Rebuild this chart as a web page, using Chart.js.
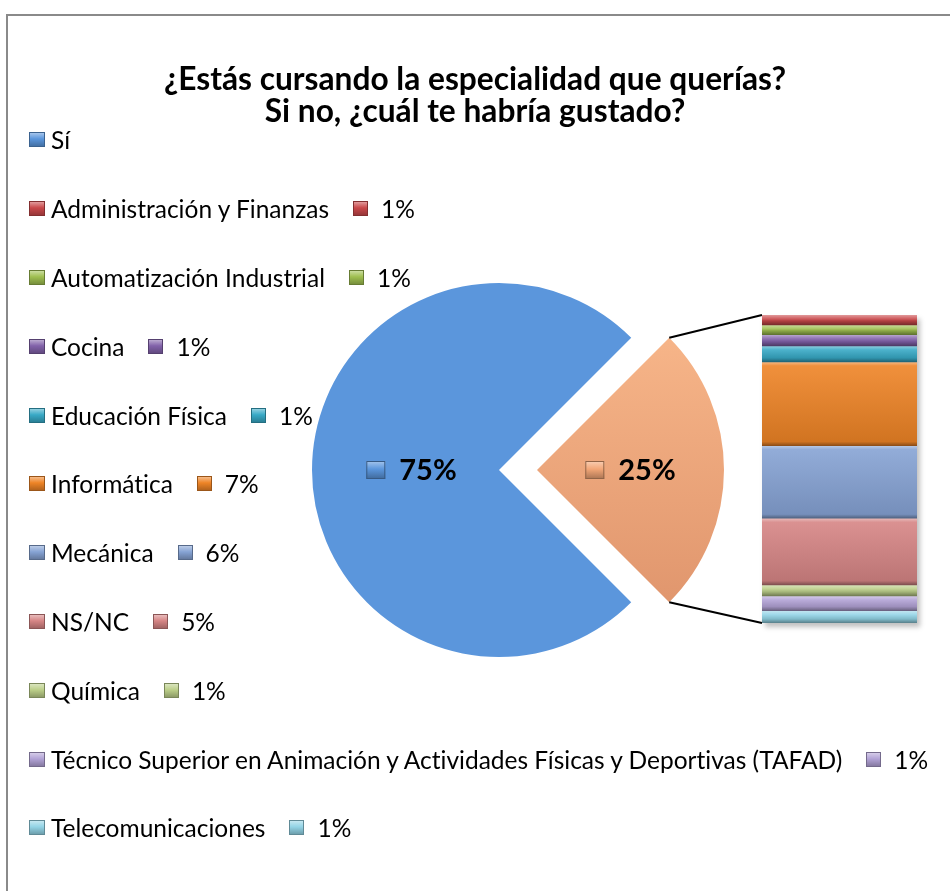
<!DOCTYPE html>
<html>
<head>
<meta charset="utf-8">
<script src="https://cdn.jsdelivr.net/npm/chart.js@4.4.1/dist/chart.umd.min.js"></script>
<style>
html,body{margin:0;padding:0;background:#fff;overflow:hidden;}
body{width:950px;height:891px;position:relative;font-family:Lato,"Open Sans",sans-serif;color:#000;font-variant-ligatures:none;}
#frame{position:absolute;left:6px;top:14px;width:2000px;height:2000px;border-left:2px solid #8a8a8a;border-top:2px solid #8a8a8a;}
#pie{position:absolute;left:0;top:0;}
#bar{position:absolute;left:762px;top:315px;box-shadow:3px 4px 5px rgba(0,0,0,0.25);}
#title{position:absolute;left:0;width:950px;top:62px;text-align:center;font-weight:bold;font-size:31.7px;line-height:32px;}
#legend{position:absolute;left:29px;top:105.6px;font-size:24.5px;}
.row{height:68.8px;display:flex;align-items:center;white-space:nowrap;}
.key{width:16px;height:15px;margin-right:6px;box-sizing:border-box;}
.vkey{width:15px;height:15px;margin-left:24px;margin-right:13px;box-sizing:border-box;}
</style>
</head>
<body>
<div id="frame"></div>
<canvas id="pie" width="950" height="891"></canvas>
<canvas id="bar" width="155" height="308"></canvas>
<div id="title">¿Estás cursando la especialidad que querías?<br>Si no, ¿cuál te habría gustado?</div>
<div id="legend"></div>
<script>
// pie: Sí vs. the rest (the rest is broken out in the bar)
const pieLabels = ['Sí', 'Otros'];
const pieValues = [75, 25];
const pieColors = ['#5b96dc', '#f2a677'];

// breakdown of the 25%
const subLabels = ['Administración y Finanzas', 'Automatización Industrial', 'Cocina', 'Educación Física',
  'Informática', 'Mecánica', 'NS/NC', 'Química',
  'Técnico Superior en Animación y Actividades Físicas y Deportivas (TAFAD)', 'Telecomunicaciones'];
const subValues = [0.8, 0.8, 0.9, 1.3, 6.8, 5.9, 5.4, 0.9, 1.2, 1.0];
const subColors = ['#c9484a', '#9fbf50', '#8262aa', '#38a9c6', '#ee8426', '#86a3d4', '#d68585', '#bccf89', '#b2a3d6', '#93d4e6'];

const EXPLODE = 38;
const subTotal = subValues.reduce((a, b) => a + b, 0);

function shade(hex, f){
    const n = parseInt(hex.slice(1), 16);
    let rgb = [n >> 16, (n >> 8) & 255, n & 255];
    rgb = rgb.map(v => Math.round(f >= 0 ? v + (255 - v) * f : v * (1 + f)));
    return `rgb(${rgb[0]},${rgb[1]},${rgb[2]})`;
}

function keyBg(col){
    return `background:linear-gradient(${shade(col,0.45)}, ${col} 45%, ${shade(col,-0.25)});border:1px solid ${shade(col,-0.35)};`;
}

function barFill(c, i){
    const ys = c.chart.scales.y;
    if(!ys || ys.top === undefined) return subColors[i];
    const start = subValues.slice(0, i).reduce((a, b) => a + b, 0);
    const y0 = ys.getPixelForValue(start), y1 = ys.getPixelForValue(start + subValues[i]);
    const h = Math.abs(y1 - y0) || 1, e = Math.min(0.4, 4 / h);
    const col = subColors[i];
    const g = c.chart.ctx.createLinearGradient(0, y0, 0, y1);
    g.addColorStop(0, shade(col, 0.45));
    g.addColorStop(e, shade(col, 0.1));
    g.addColorStop(1 - e, shade(col, -0.12));
    g.addColorStop(1, shade(col, -0.4));
    return g;
}

// legend built from the arrays
const legend = document.getElementById('legend');
const rows = [{label: pieLabels[0], color: pieColors[0]}]
    .concat(subLabels.map((l, i) => ({label: l, color: subColors[i], value: subValues[i]})));
rows.forEach(r => {
    const d = document.createElement('div');
    d.className = 'row';
    let h = `<span class="key" style="${keyBg(r.color)}"></span><span>${r.label}</span>`;
    if(r.value != null) h += `<span class="vkey" style="${keyBg(r.color)}"></span><span>${Math.round(r.value)}%</span>`;
    d.innerHTML = h;
    legend.appendChild(d);
});

const barCanvas = document.getElementById('bar');
const barChart = new Chart(barCanvas, {
    type: 'bar',
    data: {
        labels: ['Otros'],
        datasets: subLabels.map((l, i) => ({
            label: l, data: [subValues[i]], borderWidth: 0,
            backgroundColor: c => barFill(c, i),
            barPercentage: 1, categoryPercentage: 1
        }))
    },
    options: {
        responsive: false, animation: false, events: [],
        layout: {padding: 0},
        plugins: {legend: {display: false}, tooltip: {enabled: false}},
        scales: {
            x: {stacked: true, display: false},
            y: {stacked: true, display: false, reverse: true, min: 0, max: subTotal}
        }
    }
});

const extras = {
    id: 'extras',
    afterDraw(chart){
        const ctx = chart.ctx;
        const arcs = chart.getDatasetMeta(0).data;
        // connector lines from the exploded slice to the bar
        const o = arcs[1];
        const mid = (o.startAngle + o.endAngle) / 2;
        const cx = o.x + Math.cos(mid) * EXPLODE, cy = o.y + Math.sin(mid) * EXPLODE;
        const R = o.outerRadius;
        const ys = barChart.scales.y;
        const bx = barCanvas.offsetLeft + barChart.chartArea.left;
        const bTop = barCanvas.offsetTop + ys.getPixelForValue(0);
        const bBot = barCanvas.offsetTop + ys.getPixelForValue(subTotal);
        ctx.save();
        ctx.strokeStyle = '#000'; ctx.lineWidth = 2;
        ctx.beginPath();
        ctx.moveTo(cx + R * Math.cos(o.startAngle), cy + R * Math.sin(o.startAngle)); ctx.lineTo(bx, bTop);
        ctx.moveTo(cx + R * Math.cos(o.endAngle), cy + R * Math.sin(o.endAngle)); ctx.lineTo(bx, bBot);
        ctx.stroke();
        // data labels
        ctx.font = 'bold 29px Lato';
        ctx.textBaseline = 'middle';
        ctx.fillStyle = '#000';
        arcs.forEach((a, i) => {
            const m = (a.startAngle + a.endAngle) / 2;
            const d = a.outerRadius / 2 + (i === 1 ? EXPLODE : 0) - (i === 0 ? 6 : 0);
            const x = a.x + Math.cos(m) * d, y = a.y + Math.sin(m) * d;
            const txt = Math.round(pieValues[i]) + '%';
            const tw = ctx.measureText(txt).width;
            const x0 = x - (19 + 14 + tw) / 2;
            const col = pieColors[i];
            const g = ctx.createLinearGradient(0, y - 9, 0, y + 9);
            g.addColorStop(0, shade(col, 0.45)); g.addColorStop(0.45, col); g.addColorStop(1, shade(col, -0.3));
            ctx.fillStyle = g; ctx.fillRect(x0, y - 9, 19, 18);
            ctx.strokeStyle = shade(col, -0.4); ctx.lineWidth = 1; ctx.strokeRect(x0 + 0.5, y - 8.5, 18, 17);
            ctx.fillStyle = '#000';
            ctx.fillText(txt, x0 + 33, y + 1);
        });
        ctx.restore();
    }
};

function pieFill(c){
    const i = c.dataIndex;
    const a = c.chart.chartArea;
    if(i !== 1 || !a) return pieColors[i];
    const cy = (a.top + a.bottom) / 2;
    const g = c.chart.ctx.createLinearGradient(0, cy - 187, 0, cy + 187);
    g.addColorStop(0, '#fbbb8e'); g.addColorStop(1, '#dc9068');
    return g;
}

const pieChart = new Chart(document.getElementById('pie'), {
    type: 'pie',
    data: {
        labels: pieLabels,
        datasets: [{data: pieValues, backgroundColor: pieFill, borderWidth: 0,
            offset: [0, EXPLODE * 4], rotation: 135}]
    },
    options: {
        responsive: false, animation: false, events: [],
        rotation: 135,
        radius: 187,
        layout: {padding: {left: 48, top: 49, right: 0, bottom: 0}},
        plugins: {legend: {display: false}, tooltip: {enabled: false}}
    },
    plugins: [extras]
});
</script>
</body>
</html>
